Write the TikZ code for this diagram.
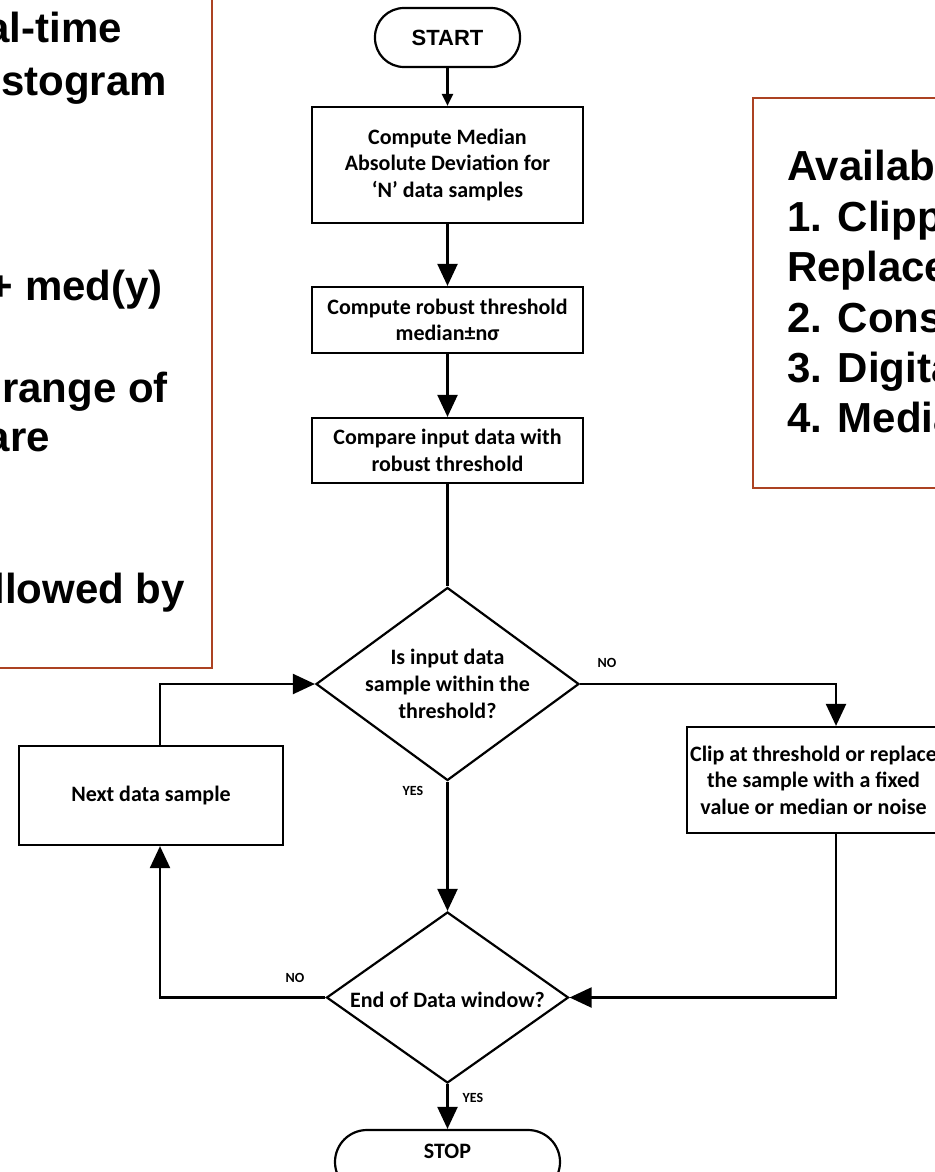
\documentclass[tikz,border=0pt]{standalone}
\usepackage{fontspec}
\setmainfont{Liberation Sans}
\newfontfamily\flowfont{Carlito}
\usetikzlibrary{shapes.geometric,arrows.meta}

\definecolor{panelred}{RGB}{172,66,34}

\begin{document}
\begin{tikzpicture}[x=1pt,y=-1pt,
  flowtext/.style={font=\flowfont\bfseries\fontsize{22}{26.5}\selectfont,align=center,inner sep=0pt},
  procbox/.style={flowtext,draw=black,line width=2.2pt,fill=white,rectangle,minimum width=271pt},
  termbox/.style={draw=black,line width=2.2pt,fill=white,rectangle,inner sep=0pt},
  decision/.style={draw=black,line width=2.2pt,fill=white,diamond,inner sep=0pt},
  answer/.style={font=\flowfont\bfseries\fontsize{14}{16}\selectfont,inner sep=0pt},
  conn/.style={line width=2.2pt,black},
  arrowbig/.style={conn,-{Triangle[length=22pt,width=20pt]}},
  arrowsmall/.style={conn,-{Triangle[length=12pt,width=11pt]}},
  panel/.style={draw=panelred,line width=2.4pt},
  paneltext/.style={font=\bfseries\fontsize{42}{50}\selectfont,inner sep=0pt}]

\useasboundingbox (0,0) rectangle (934,1172);

% side panels with notes
\draw[panel] (-30,-30) rectangle (212,668);
\draw[panel] (753,98) rectangle (980,488);

\node[paneltext,anchor=base east] (la) at (122,43) {al-time};
\node[paneltext,anchor=base east] (lb) at (167,95) {stogram};
\node[paneltext,anchor=base east] (lc) at (163,300) {+ med(y)};
\node[paneltext,anchor=base east] (ld) at (168,402) {range of};
\node[paneltext,anchor=base east] (le) at (50,451) {are};
\node[paneltext,anchor=base east] (lf) at (185,603) {llowed by};

\node[paneltext,anchor=base west] (ra) at (787,180) {Availab};
\node[paneltext,anchor=base west] (rb) at (787,231) {1. Clipp};
\node[paneltext,anchor=base west] (rc) at (787,281) {Replace};
\node[paneltext,anchor=base west] (rd) at (787,332) {2. Cons};
\node[paneltext,anchor=base west] (re) at (787,382) {3. Digita};
\node[paneltext,anchor=base west] (rf) at (787,432) {4. Media};

% flowchart
\node[termbox,rounded corners=29pt,minimum width=145pt,minimum height=59pt,
      font=\bfseries\fontsize{22}{26}\selectfont] (start) at (447.5,37.5) {START};

\node[procbox,minimum height=116pt] (box1) at (447.5,165)
  {Compute Median\\Absolute Deviation for\\‘N’ data samples};
\node[procbox,minimum height=66pt] (box2) at (447.5,320)
  {Compute robust threshold\\median±nσ};
\node[procbox,minimum height=65pt] (box3) at (447.5,450.5)
  {Compare input data with\\robust threshold};

\node[decision,minimum width=263pt,minimum height=193pt] (d1) at (447.5,684) {};
\node[flowtext,font=\flowfont\bfseries\fontsize{22}{27}\selectfont] (d1text) at (447.5,684)
  {Is input data\\sample within the\\threshold?};

\node[procbox,minimum width=253pt,minimum height=106pt] (clip) at (813.5,780)
  {Clip at threshold or replace\\the sample with a fixed\\value or median or noise};

\node[procbox,minimum width=264pt,minimum height=99pt] (next) at (151,795.5)
  {Next data sample};

\node[decision,minimum width=242pt,minimum height=171pt] (d2) at (447.5,997.5) {};
\node[flowtext] (d2text) at (447.5,1000) {End of Data window?};

\node[termbox,rounded corners=32pt,minimum width=225pt,minimum height=64pt] (stop) at (447.5,1162) {};
\node[flowtext] (stoptext) at (447.5,1151) {STOP};

% answer labels
\node[answer] (no1) at (607,663) {NO};
\node[answer] (yes1) at (413,791) {YES};
\node[answer] (no2) at (295,978) {NO};
\node[answer] (yes2) at (473,1098) {YES};

% connectors
\draw[arrowsmall] (start) -- (box1);
\draw[arrowbig] (box1) -- (box2);
\draw[arrowbig] (box2) -- (box3);
\draw[conn] (box3.south) -- (d1.north);
\draw[arrowbig] (d1.east) -| ([xshift=22.5pt]clip.north);
\draw[arrowbig] ([xshift=22.5pt]clip.south) |- (d2.east);
\draw[arrowbig] (d1.south) -- (d2.north);
\draw[arrowbig] (d2.west) -| ([xshift=9pt]next.south);
\draw[arrowbig] ([xshift=9pt]next.north) |- (d1.west);
\draw[arrowbig] (d2.south) -- (stop.north);
\end{tikzpicture}
\end{document}
